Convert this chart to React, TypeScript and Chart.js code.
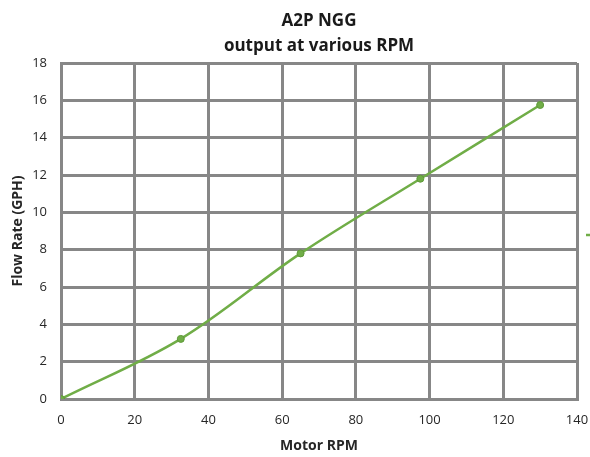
import React, { useEffect, useRef } from "react";
import { Chart, registerables } from "chart.js";

Chart.register(...registerables);

const rpm = [0, 32.5, 65, 97.5, 130];
const flow = [0, 3.22, 7.8, 11.8, 15.75];
const titleLines = ["A2P NGG", "output at various RPM"];
const seriesName = "Series1";

const green = "#70AD47";

// draws the visible start of the (cropped) legend key to the right of the plot
const legendStub = {
  id: "legendStub",
  afterDraw(chart: any) {
    const { ctx, chartArea } = chart;
    const y = (chartArea.top + chartArea.bottom) / 2 + 4;
    ctx.save();
    ctx.strokeStyle = green;
    ctx.lineWidth = 2.5;
    ctx.beginPath();
    ctx.moveTo(chartArea.right + 9, y);
    ctx.lineTo(chartArea.right + 20, y);
    ctx.stroke();
    ctx.restore();
  },
};

export default function App() {
  const ref = useRef<HTMLCanvasElement>(null);
  useEffect(() => {
    if (!ref.current) return;
    const grid = "#878787";
    const font = "'Open Sans', sans-serif";
    const chart = new Chart(ref.current, {
      type: "scatter",
      data: {
        datasets: [
          {
            label: seriesName,
            data: rpm.map((x, i) => ({ x, y: flow[i] })),
            showLine: true,
            borderColor: green,
            backgroundColor: green,
            borderWidth: 2.5,
            pointRadius: 3.5,
            pointBackgroundColor: green,
            pointBorderColor: "#5f9a3a",
            pointBorderWidth: 1,
            tension: 0.35,
          },
        ],
      },
      plugins: [legendStub],
      options: {
        animation: false,
        responsive: true,
        maintainAspectRatio: false,
        layout: { padding: { left: 0, right: 13, top: 0, bottom: 0 } },
        plugins: {
          title: {
            display: true,
            fullSize: false,
            text: titleLines,
            color: "#1a1a1a",
            font: { family: font, size: 17, weight: "bold", lineHeight: 1.5 },
            padding: { top: 8, bottom: 4 },
          },
          legend: { display: false },
          tooltip: { enabled: false },
        },
        scales: {
          x: {
            type: "linear",
            min: 0,
            max: 140,
            afterFit: (s: any) => {
              s.height = 58;
              s.paddingRight = 0;
              s.paddingLeft = 0;
            },
            ticks: { stepSize: 20, color: "#262626", font: { family: font, size: 13 }, padding: 13 },
            grid: { color: grid, lineWidth: 3, drawTicks: false },
            border: { color: grid, width: 3 },
            title: {
              display: true,
              text: "Motor RPM",
              color: "#262626",
              font: { family: font, size: 14, weight: "bold" },
              padding: { top: 0, bottom: 3 },
            },
          },
          y: {
            min: 0,
            max: 18,
            afterFit: (s: any) => {
              s.width = 61;
            },
            ticks: { stepSize: 2, color: "#262626", font: { family: font, size: 13 }, padding: 14 },
            grid: { color: grid, lineWidth: 3, drawTicks: false },
            border: { color: grid, width: 3 },
            title: {
              display: true,
              text: "Flow Rate (GPH)",
              color: "#262626",
              font: { family: font, size: 14, weight: "bold" },
              padding: { top: 10, bottom: 0 },
            },
          },
        },
      },
    });
    return () => chart.destroy();
  }, []);
  return (
    <div style={{ position: "fixed", left: 0, top: 0, width: 590, height: 457 }}>
      <canvas ref={ref} />
    </div>
  );
}
